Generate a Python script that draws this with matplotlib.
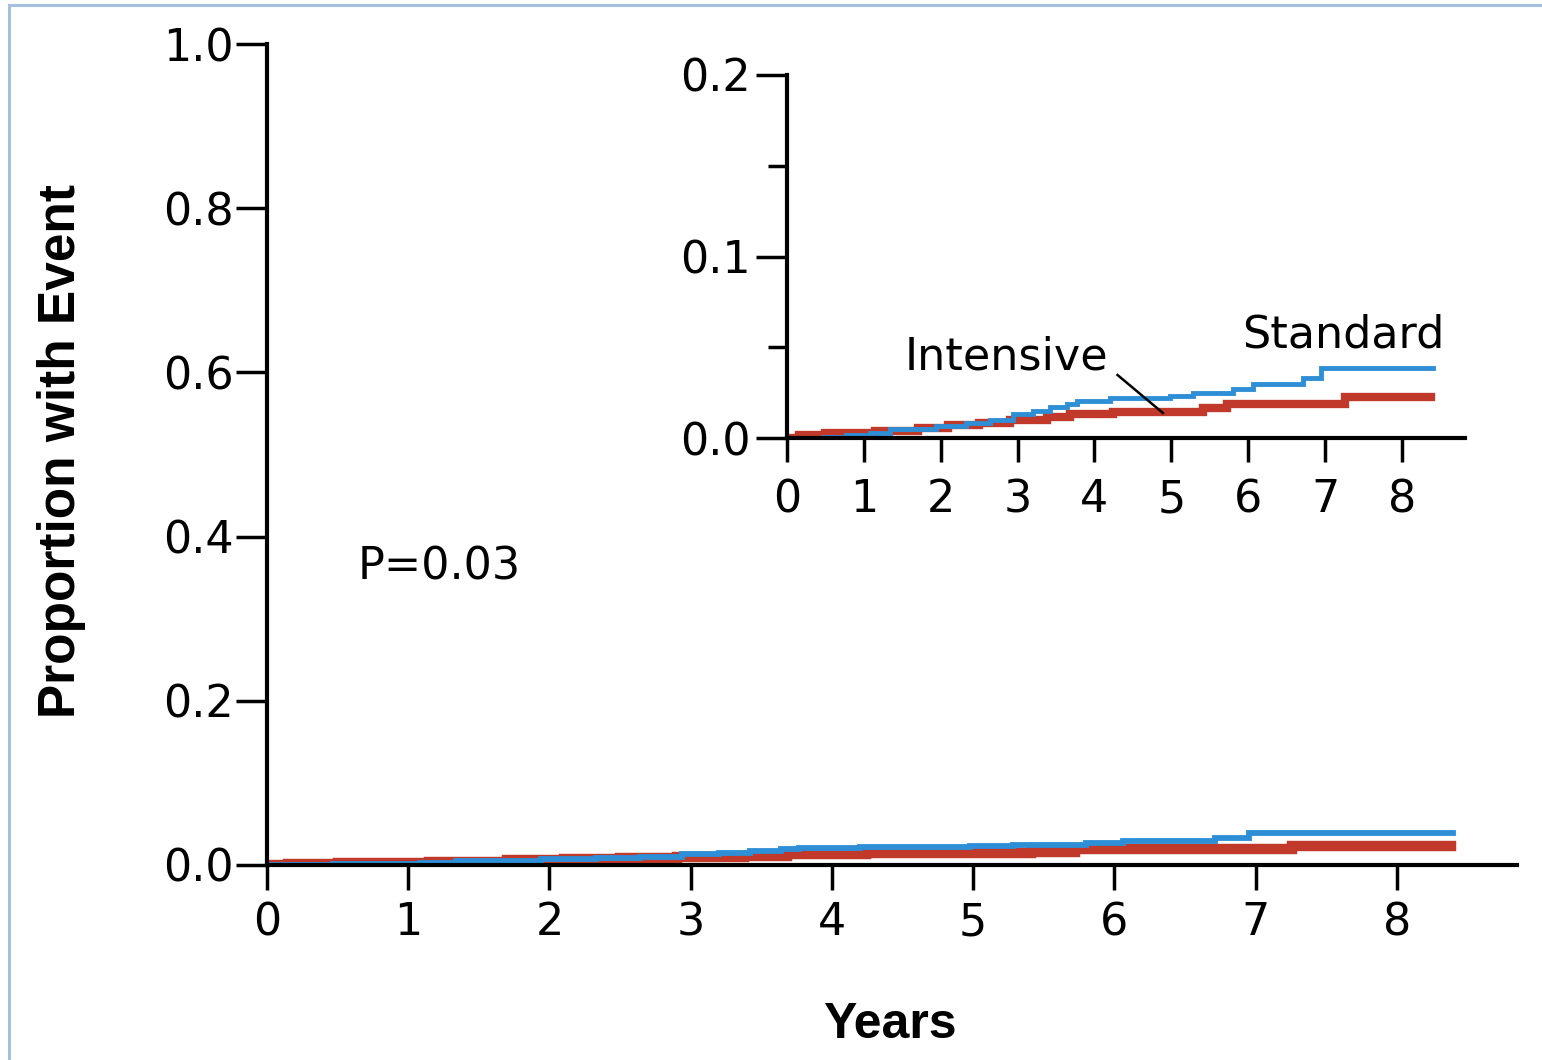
import numpy as np
import matplotlib
matplotlib.use('Agg')
import matplotlib.pyplot as plt
from matplotlib.lines import Line2D

# Kaplan-Meier style step data
std_t = [0, 0.47, 0.77, 1.08, 1.34, 1.94, 2.33, 2.64, 2.94, 3.2, 3.42, 3.64, 3.77,
         4.2, 4.98, 5.28, 5.8, 6.06, 6.71, 6.95, 8.4]
std_y = [0, 0.0008, 0.0015, 0.0028, 0.0048, 0.0068, 0.0084, 0.0099, 0.013, 0.015,
         0.017, 0.019, 0.0205, 0.0219, 0.0231, 0.0246, 0.0268, 0.0298, 0.0329, 0.0384, 0.0384]

int_t = [0, 0.15, 0.5, 1.15, 1.7, 2.1, 2.5, 2.9, 3.38, 3.68, 4.24, 5.41, 5.72, 7.26, 8.38]
int_y = [0, 0.0015, 0.003, 0.004, 0.0055, 0.007, 0.0085, 0.0099, 0.0114, 0.013,
         0.0145, 0.0163, 0.019, 0.0228, 0.0228]

main_yticks = [0.0, 0.2, 0.4, 0.6, 0.8, 1.0]
inset_yticks = [0.0, 0.1, 0.2]
inset_yminor = [0.05, 0.15]
xticks = [0, 1, 2, 3, 4, 5, 6, 7, 8]

blue = '#2e8fd6'
red = '#c0392b'
fs = 32
W, H = 1542, 1060

fig = plt.figure(figsize=(W/100, H/100), dpi=100)
plt.rcParams['font.family'] = 'DejaVu Sans'


def style(ax, xmax, ymax, xtl, ytl, xpad, ypad):
    for s in ['top', 'right']:
        ax.spines[s].set_visible(False)
    for s in ['left', 'bottom']:
        ax.spines[s].set_linewidth(3)
    ax.set_xlim(0, xmax)
    ax.set_ylim(0, ymax)
    ax.tick_params(axis='x', direction='out', length=xtl, width=2.5, labelsize=fs, pad=xpad)
    ax.tick_params(axis='y', direction='out', length=ytl, width=2.5, labelsize=fs, pad=ypad)
    ax.spines['left'].set_bounds(0, ymax)


# main axes
ax = fig.add_axes([267/W, 1-865/H, (1517-267)/W, (865-44)/H])
ax.step(int_t, int_y, where='post', color=red, lw=7.5, solid_joinstyle='miter')
ax.step(std_t, std_y, where='post', color=blue, lw=4.2, solid_joinstyle='miter')
style(ax, 8.85, 1.0, 18, 22, 8, 2)
ax.set_xticks(xticks)
ax.set_yticks(main_yticks)
ax.set_yticklabels(['%.1f' % v for v in main_yticks])
ax.set_facecolor('none')
ax.text(0.644, 0.363, 'P=0.03', fontsize=fs, va='center', ha='left')

# inset
ins = fig.add_axes([787/W, 1-438/H, (1465-787)/W, (438-75)/H])
ins.set_facecolor('none')
ins.step(int_t, int_y, where='post', color=red, lw=6, solid_joinstyle='miter')
ins.step(std_t, std_y, where='post', color=blue, lw=3.5, solid_joinstyle='miter')
style(ins, 8.82, 0.2, 17, 22, 12, 4)
ins.set_xticks(xticks)
ins.set_yticks(inset_yticks)
ins.set_yticklabels(['%.1f' % v for v in inset_yticks])
ins.set_yticks(inset_yminor, minor=True)
ins.tick_params(axis='y', which='minor', length=14, width=2.5)
ins.text(1.53, 0.0446, 'Intensive', fontsize=fs, va='center', ha='left')
ins.text(5.92, 0.0567, 'Standard', fontsize=fs, va='center', ha='left')
ins.plot([4.30, 4.89], [0.0347, 0.0138], color='black', lw=1.8)

# axis labels
fig.text(62/W, 1-451/H, 'Proportion with Event', rotation=90, fontsize=37,
         fontweight='bold', family='Liberation Sans', ha='center', va='center')
fig.text(890/W, 1-1025/H, 'Years', fontsize=36, fontweight='bold',
         family='Liberation Sans', ha='center', va='center')

# light blue frame
fig.add_artist(Line2D([9/W, 9/W], [0, 1-5/H], color='#a6bfe0', lw=2.2))
fig.add_artist(Line2D([9/W, 1], [1-5/H, 1-5/H], color='#a6bfe0', lw=2.2))

plt.savefig('out.png', dpi=100)
